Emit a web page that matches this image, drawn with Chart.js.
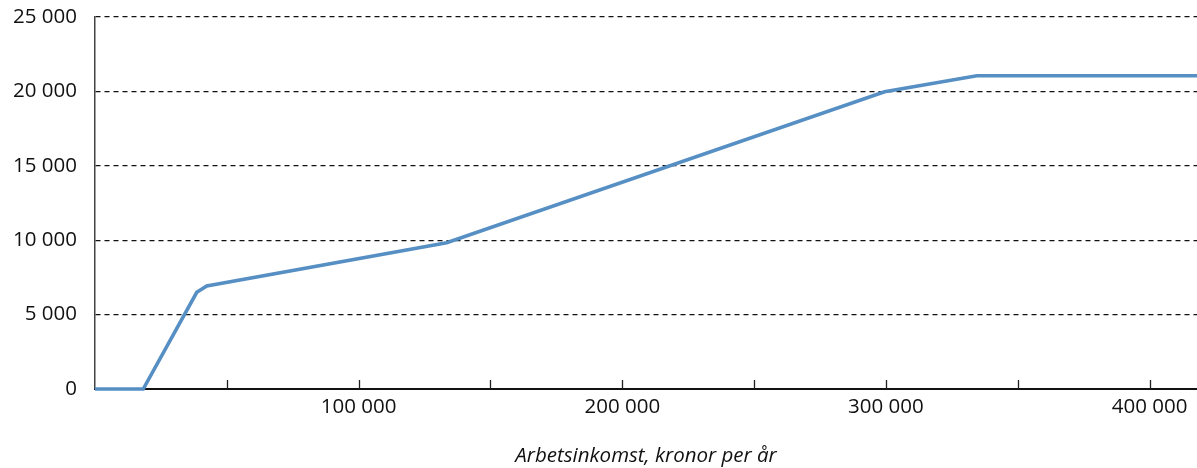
<!DOCTYPE html>
<html>
<head>
<meta charset="utf-8">
<script src="https://cdn.jsdelivr.net/npm/chart.js@4/dist/chart.umd.min.js"></script>
<style>
html,body{margin:0;padding:0;background:#fff;}
#wrap{width:1197px;height:468px;}
</style>
</head>
<body>
<div id="wrap"><canvas id="c" width="1197" height="468"></canvas></div>
<script>
const incomes = [0, 18300, 38600, 42400, 133400, 299500, 334500, 418000];
const benefit = [0, 0, 6500, 6930, 9830, 19980, 21050, 21050];
const xLabelValues = [100000, 200000, 300000, 400000];
const yTicks = [0, 5000, 10000, 15000, 20000, 25000];
const xTitle = 'Arbetsinkomst, kronor per år';

const fmt = v => String(v).replace(/\B(?=(\d{3})+(?!\d))/g, ' ');
const FONT = "'Open Sans', 'Noto Sans', sans-serif";

const innerTicks = {
  id: 'innerTicks',
  afterDraw(chart) {
    const xs = chart.scales.x, ctx = chart.ctx;
    const bottom = chart.chartArea.bottom;
    ctx.save();
    ctx.strokeStyle = '#222';
    ctx.lineWidth = 1.3;
    xs.ticks.forEach(t => {
      if (t.value <= 0) return;
      const px = Math.round(xs.getPixelForValue(t.value)) + 0.5;
      ctx.beginPath();
      ctx.moveTo(px, bottom);
      ctx.lineTo(px, bottom - 9);
      ctx.stroke();
    });
    ctx.restore();
  }
};

new Chart(document.getElementById('c'), {
  type: 'line',
  data: {
    datasets: [{
      data: incomes.map((x, i) => ({x: x, y: benefit[i]})),
      borderColor: '#568fc3',
      borderWidth: 3.6,
      pointRadius: 0,
      tension: 0,
      fill: false,
      clip: false
    }]
  },
  options: {
    responsive: false,
    animation: false,
    layout: {padding: {top: 17, right: 0, left: 0, bottom: 0}},
    plugins: {legend: {display: false}, tooltip: {enabled: false}},
    scales: {
      x: {
        type: 'linear',
        min: 0,
        max: 418000,
        afterBuildTicks: s => {
          const t = [];
          for (let v = 0; v <= 400000; v += 50000) t.push({value: v});
          s.ticks = t;
        },
        afterFit: s => { s.height = 79; s.paddingLeft = 0; s.paddingRight = 0; },
        grid: {display: true, drawOnChartArea: false, drawTicks: false, color: 'rgba(0,0,0,0)'},
        border: {display: true, color: '#111', width: 2},
        ticks: {
          autoSkip: false,
          maxRotation: 0,
          padding: 6,
          color: '#111',
          font: {family: FONT, size: 20.5},
          callback: v => xLabelValues.includes(v) ? fmt(v) : ''
        },
        title: {
          display: true,
          text: xTitle,
          color: '#111',
          font: {family: FONT, size: 20.5, style: 'italic'},
          padding: {top: 17, bottom: 0}
        }
      },
      y: {
        min: 0,
        max: 25000,
        afterBuildTicks: s => { s.ticks = yTicks.map(v => ({value: v})); },
        afterFit: s => { s.width = 95; s.paddingTop = 0; s.paddingBottom = 0; },
        grid: {
          drawTicks: false,
          color: ctx => ctx.tick && ctx.tick.value === 0 ? 'rgba(0,0,0,0)' : '#111',
          lineWidth: 1.3
        },
        border: {display: true, color: '#444', width: 1.5, dash: [5, 4]},
        ticks: {
          padding: 18,
          color: '#111',
          font: {family: FONT, size: 20.5},
          callback: v => fmt(v)
        }
      }
    }
  },
  plugins: [innerTicks]
});
</script>
</body>
</html>
